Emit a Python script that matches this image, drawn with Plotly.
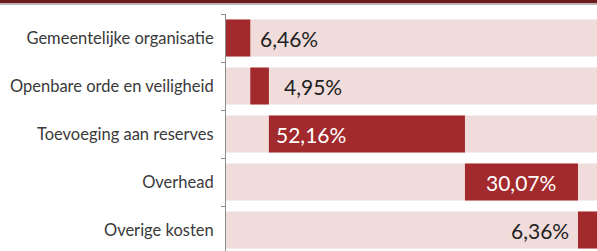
import plotly.graph_objects as go

categories = ["Gemeentelijke organisatie", "Openbare orde en veiligheid",
              "Toevoeging aan reserves", "Overhead", "Overige kosten"]
values = [6.46, 4.95, 52.16, 30.07, 6.36]
value_labels = ["6,46%", "4,95%", "52,16%", "30,07%", "6,36%"]
full_scale = [100, 100, 100, 100, 100]

# cumulative starts (waterfall)
starts = []
acc = 0.0
for v in values:
    starts.append(acc)
    acc += v

DARK = "#a2292c"
PINK = "#f1dcdc"
W, H = 597, 251
top_m = 14
plot_h = H - top_m

fig = go.Figure()
fig.add_trace(go.Bar(y=categories, x=full_scale, base=[0] * 5, orientation="h",
                     marker=dict(color=PINK, line=dict(width=0)), width=0.77,
                     hoverinfo="skip", showlegend=False))
fig.add_trace(go.Bar(y=categories, x=values, base=starts, orientation="h",
                     marker=dict(color=DARK, line=dict(width=0)), width=0.77,
                     showlegend=False))

# label placement styles: (anchor position, xanchor, xshift, color)
placement = [("end", "left", 8, "#222222"),
             ("end", "left", 13, "#222222"),
             ("start", "left", 5, "white"),
             ("mid", "center", 0, "white"),
             ("start", "right", -7, "#222222")]

annotations = []
for cat, s, v, lab, (pos, xa, xs, col) in zip(categories, starts, values, value_labels, placement):
    xpos = {"start": s, "end": s + v, "mid": s + v / 2}[pos]
    annotations.append(dict(x=xpos, y=cat, xref="x", yref="y", text=lab,
                            showarrow=False, xanchor=xa, xshift=xs,
                            font=dict(family="Lato", size=21, color=col)))

right_visible = 98.7

fig.update_layout(
    width=W, height=H,
    margin=dict(l=226, r=0, t=top_m, b=0, pad=0),
    paper_bgcolor="white", plot_bgcolor="white",
    barmode="overlay",
    annotations=annotations,
    xaxis=dict(range=[0, right_visible], visible=False, showgrid=False, zeroline=False),
    yaxis=dict(autorange=False, range=[4.5 - 3 / 48, -0.5],
               showline=True, linecolor="#8c8c8c", linewidth=1,
               ticks="outside", tickson="boundaries", ticklen=4, tickcolor="#8c8c8c",
               showgrid=False, zeroline=False,
               tickfont=dict(family="Lato", size=16.5, color="#3a3a3a"),
               ticklabelstandoff=8),
    shapes=[
        dict(type="rect", xref="paper", yref="paper", x0=-1, x1=1.1,
             y0=1 + (top_m - 3) / plot_h, y1=1 + (top_m + 2) / plot_h,
             fillcolor="#6b1b1d", line=dict(width=0), layer="above"),
        dict(type="rect", xref="paper", yref="paper", x0=-1, x1=1.1,
             y0=1 + (top_m - 5) / plot_h, y1=1 + (top_m - 3) / plot_h,
             fillcolor="#b9b4b4", line=dict(width=0), layer="above"),
    ],
)

fig.write_html("out.html", config={"displayModeBar": False},
               post_script="document.body.style.margin='0';document.body.style.overflow='hidden';")
